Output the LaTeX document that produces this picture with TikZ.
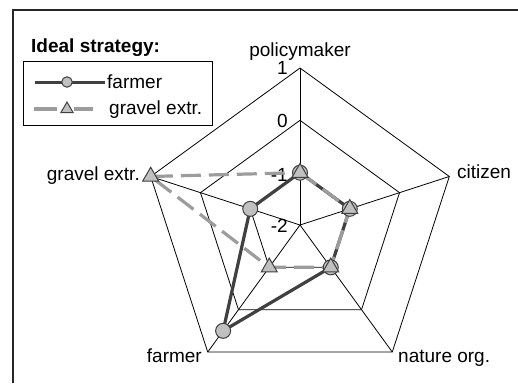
\documentclass[tikz,border=0pt]{standalone}
\usepackage{fontspec}
\setmainfont{Liberation Sans}
\usetikzlibrary{calc,shapes.geometric}
\definecolor{fcol}{HTML}{404040}
\definecolor{gcol}{HTML}{9C9C9C}
\definecolor{mfill}{HTML}{C0C0C0}
\definecolor{mdraw}{HTML}{404040}
\begin{document}
\begin{tikzpicture}[x=1pt,y=1pt,
  lbl/.style={font=\fontsize{19}{22}\selectfont, inner sep=0pt},
  gridline/.style={black, line width=0.8pt},
  fser/.style={draw=fcol, line width=3.2pt, line join=round},
  gser/.style={draw=gcol, line width=3.2pt, dash pattern=on 20pt off 8pt},
  fmark/.style={circle, fill=mfill, draw=mdraw, line width=1pt, minimum size=15pt, inner sep=0pt},
  gmark/.style={regular polygon, regular polygon sides=3, fill=mfill, draw=mdraw, line width=1pt, minimum size=18.5pt, inner sep=0pt}]
\useasboundingbox (0,-383) rectangle (518,0);
% frame
\draw[line width=1.3pt, black!85] (13,-383) -- (13,-10) -- (518,-10);
% grid
\coordinate (C) at (300,-225);
\foreach \n/\a in {pm/90, ci/18, na/-54, fa/-126, gr/162} {
  \foreach \k in {1,2,3} { \coordinate (\n\k) at ($(C)+(\a:{52.33*\k})$); }
}
\coordinate (fa25) at ($(C)+(-126:130.8)$);
\foreach \k in {1,2,3} { \draw[gridline] (pm\k)--(ci\k)--(na\k)--(fa\k)--(gr\k)--cycle; }
\foreach \n in {pm,ci,na,fa,gr} { \draw[gridline] (C)--(\n3); }
% tick labels
\node[lbl, anchor=east] (t1) at (288,-67.5) {1};
\node[lbl, anchor=east] (t0) at (288,-121) {0};
\node[lbl, anchor=east] (tm1) at (288,-175) {-1};
\node[lbl, anchor=east] (tm2) at (288,-226) {-2};
% axis labels
\node[lbl, anchor=base] (lpm) at (300,-56) {policymaker};
\node[lbl, anchor=base west] (lci) at (457,-178) {citizen};
\node[lbl, anchor=base west] (lna) at (398,-362) {nature org.};
\node[lbl, anchor=base east] (lfa) at (202,-362) {farmer};
\node[lbl, anchor=base east] (lgr) at (140,-180) {gravel extr.};
% series lines
\draw[fser] (pm1)--(ci1)--(na1)--(fa25)--(gr1)--cycle;
\draw[gser] (pm1)--(ci1)--(na1)--(fa1)--(gr3)--cycle;
% markers
\foreach \p [count=\i] in {pm1,ci1,na1,fa25,gr1} { \node[fmark] (fm\i) at (\p) {}; }
\foreach \p [count=\i] in {pm1,ci1,na1,fa1,gr3} { \node[gmark] (gm\i) at (\p) {}; }
% legend
\node[lbl, font=\fontsize{19}{22}\selectfont\bfseries, anchor=base west] (ltitle) at (31,-52) {Ideal strategy:};
\draw[black, line width=0.9pt] (23,-61) rectangle (212,-125);
\coordinate (l1a) at (35,-82); \coordinate (l1b) at (105,-82);
\draw[fser, line width=3pt] (l1a) -- (l1b);
\node[fmark, minimum size=10.5pt] (lfm) at (67,-82) {};
\node[lbl, anchor=base west] (lf) at (107,-88) {farmer};
\coordinate (l2a) at (34,-109); \coordinate (l2b) at (57,-109);
\coordinate (l2c) at (74,-109); \coordinate (l2d) at (93,-109);
\draw[gcol, line width=3.2pt] (l2a) -- (l2b) (l2c) -- (l2d);
\node[gmark, minimum size=14pt] (lgm) at (67,-109) {};
\node[lbl, anchor=base west] (lg) at (109,-114) {gravel extr.};
\end{tikzpicture}
\end{document}
